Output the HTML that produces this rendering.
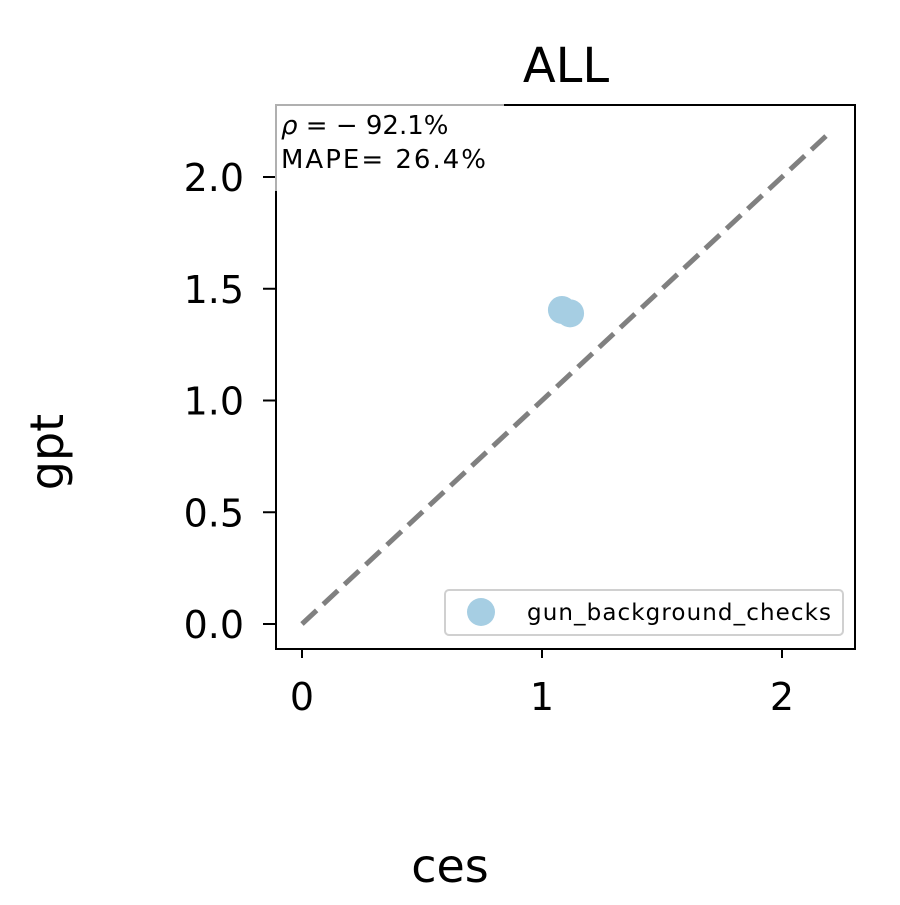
<!DOCTYPE html>
<html><head><meta charset="utf-8"><style>
body{margin:0;background:#fff;}
svg text{font-family:"DejaVu Sans","Liberation Sans",sans-serif;}
</style></head><body>
<svg width="900" height="900" viewBox="0 0 900 900" xmlns="http://www.w3.org/2000/svg">
<rect width="900" height="900" fill="#fff"/>
<g id="marks"></g>
<rect x="276" y="105" width="579" height="544" fill="none" stroke="#000" stroke-width="2"/>
<g id="ticks"></g>
<g>
<rect x="276" y="105" width="228" height="86" fill="#fff"/>
<path d="M276 191 V105 H504" fill="none" stroke="#b0b0b0" stroke-width="2"/>
</g>
<text x="281" y="134" font-size="26"><tspan font-style="italic">ρ</tspan> = − 92.1%</text>
<text x="281" y="168" font-size="26" textLength="205">MAPE= 26.4%</text>
<text x="566" y="82" font-size="48" text-anchor="middle">ALL</text>
<text x="450" y="882" font-size="46" text-anchor="middle">ces</text>
<text x="0" y="0" font-size="46" text-anchor="middle" transform="translate(63,452) rotate(-90)">gpt</text>
<g>
<rect x="445" y="590" width="398" height="45" rx="4" fill="#fff" stroke="#d0d0d0" stroke-width="2"/>
<circle cx="481" cy="612" r="14" fill="#a6cee3"/>
<text x="527" y="620" font-size="23" textLength="304">gun_background_checks</text>
</g>
</svg>
<script>
const xTicks=[0,1,2];
const yTicks=[0.0,0.5,1.0,1.5,2.0];
const xTickLabels=["0","1","2"];
const yTickLabels=["0.0","0.5","1.0","1.5","2.0"];
const ptsX=[1.083,1.117];
const ptsY=[1.405,1.39];
const refLine=[0,2.2];
const X=v=>302+v*240, Y=v=>624-v*223.5;
const NS="http://www.w3.org/2000/svg";
const marks=document.getElementById('marks'), ticks=document.getElementById('ticks');
function mk(tag,attrs,parent){const e=document.createElementNS(NS,tag);for(const k in attrs)e.setAttribute(k,attrs[k]);parent.appendChild(e);return e;}
const ln=mk('line',{x1:X(refLine[0]),y1:Y(refLine[0]),x2:X(refLine[1]),y2:Y(refLine[1]),stroke:'#808080','stroke-width':5,'stroke-dasharray':'20 9'},marks);


ptsX.forEach((x,i)=>{const c=mk('circle',{cx:X(x),cy:Y(ptsY[i]),r:14,fill:'#a6cee3'},marks);

});
xTicks.forEach((t,i)=>{const l=mk('line',{x1:X(t),x2:X(t),y1:649,y2:658,stroke:'#000','stroke-width':2},ticks);


const tx=mk('text',{x:X(t),y:710,'font-size':38,'text-anchor':'middle'},ticks);tx.textContent=xTickLabels[i];

});
yTicks.forEach((t,i)=>{const l=mk('line',{x1:263,x2:276,y1:Y(t),y2:Y(t),stroke:'#000','stroke-width':2},ticks);


const tx=mk('text',{x:244,y:Y(t)+14,'font-size':38,'text-anchor':'end'},ticks);tx.textContent=yTickLabels[i];

});
</script>
</body></html>
